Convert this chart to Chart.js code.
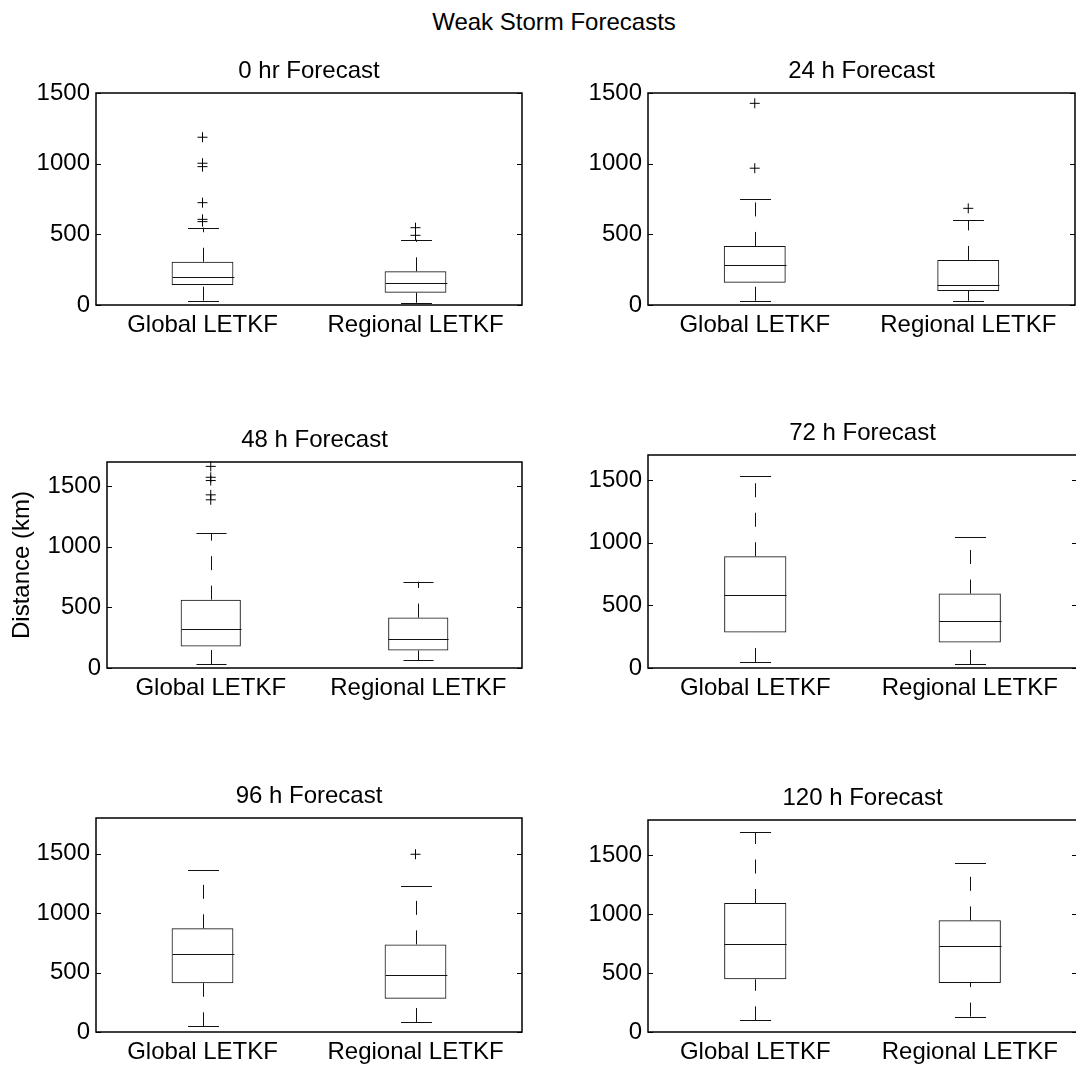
<!DOCTYPE html>
<html>
<head>
<meta charset="utf-8">
<title>Weak Storm Forecasts</title>
<script src="https://cdn.jsdelivr.net/npm/chart.js@4.4.1/dist/chart.umd.min.js"></script>
<style>
  html, body { margin: 0; padding: 0; background: #fff; overflow: hidden; }
  body { width: 1076px; height: 1070px; position: relative; }
  canvas { position: absolute; }
  #suptitle {
    position: absolute; left: 354px; width: 400px; top: 8px;
    line-height: 28px; text-align: center;
    font: 24px "Liberation Sans", Arial, sans-serif; color: #000;
  }
</style>
</head>
<body>
<div id="suptitle">Weak Storm Forecasts</div>

<script>
// --- Data (km) ---

const groups = ['Global LETKF', 'Regional LETKF'];
const panelTitles = ['0 hr Forecast', '24 h Forecast', '48 h Forecast',
                     '72 h Forecast', '96 h Forecast', '120 h Forecast'];
const yMax = [1500, 1500, 1700, 1700, 1800, 1800];
const yTicks = [0, 500, 1000, 1500];

// one [global, regional] pair per panel
const lowWhisker  = [[31, 16],   [30, 30],   [33, 66],    [48, 32],    [48, 84],    [99, 131]];
const q1          = [[141, 87],  [157, 99],  [178, 145],  [284, 204],  [411, 280],  [447, 416]];
const median      = [[198, 158], [280, 141], [323, 243],  [582, 375],  [657, 478],  [747, 733]];
const q3          = [[306, 238], [418, 319], [564, 416],  [892, 594],  [872, 737],  [1095, 948]];
const highWhisker = [[547, 462], [752, 599], [1114, 712], [1535, 1049], [1363, 1232], [1698, 1435]];

const globalOutliers   = [[1187, 1003, 979, 724, 606, 590], [1427, 968],
                          [1664, 1574, 1547, 1429, 1388], [], [], []];
const regionalOutliers = [[547, 493], [684], [], [], [1495], []];

// --- Layout: plot area of each panel in page pixels ---

const panelBoxes = [
    { left: 96,  top: 93,  right: 524,  bottom: 305 },
    { left: 648, top: 93,  right: 1077, bottom: 305 },
    { left: 107, top: 462, right: 524,  bottom: 668 },
    { left: 648, top: 455, right: 1077, bottom: 668 },
    { left: 96,  top: 818, right: 524,  bottom: 1032 },
    { left: 648, top: 820, right: 1077, bottom: 1032 }
];

const FONT = '"Liberation Sans", Arial, sans-serif';
const TOP_SPACE = 48;
const BOTTOM_SPACE = 44;
const RIGHT_PAD = 4;
const INK = '#111';

function crisp(v) {
    return Math.round(v) + 0.5;
}

function strokeLine(ctx, x1, y1, x2, y2) {
    ctx.beginPath();
    ctx.moveTo(x1, y1);
    ctx.lineTo(x2, y2);
    ctx.stroke();
}

// medians, dashed whiskers, caps, frame and inward ticks
function makeBoxPlugin(k) {
    return {
        id: 'boxWhiskers' + k,
        afterDatasetsDraw(chart) {
            const { ctx, chartArea, scales: { y } } = chart;
            const bars = chart.getDatasetMeta(0).data;
            ctx.save();
            ctx.strokeStyle = INK;
            ctx.lineWidth = 1;

            bars.forEach((bar, i) => {
                const cx = crisp(bar.x);
                const half = bar.width / 2;

                const ym = crisp(y.getPixelForValue(median[k][i]));
                strokeLine(ctx, cx - half, ym, cx + half, ym);

                // whiskers run upward from the lower value, dashed
                ctx.setLineDash([14, 15.5]);
                strokeLine(ctx, cx, y.getPixelForValue(q3[k][i]), cx, y.getPixelForValue(highWhisker[k][i]));
                strokeLine(ctx, cx, y.getPixelForValue(lowWhisker[k][i]), cx, y.getPixelForValue(q1[k][i]));
                ctx.setLineDash([]);

                const yHi = crisp(y.getPixelForValue(highWhisker[k][i]));
                const yLo = crisp(y.getPixelForValue(lowWhisker[k][i]));
                strokeLine(ctx, cx - half / 2, yHi, cx + half / 2, yHi);
                strokeLine(ctx, cx - half / 2, yLo, cx + half / 2, yLo);
            });

            // axes frame
            ctx.strokeStyle = '#000';
            ctx.lineWidth = 1.5;
            ctx.strokeRect(chartArea.left, chartArea.top, chartArea.width, chartArea.height);

            // inward y ticks on both sides
            ctx.lineWidth = 1;
            y.ticks.forEach(t => {
                const py = crisp(y.getPixelForValue(t.value));
                strokeLine(ctx, chartArea.left, py, chartArea.left + 5, py);
                strokeLine(ctx, chartArea.right - 5, py, chartArea.right, py);
            });
            ctx.restore();
        }
    };
}

function buildPanel(k) {
    const box = panelBoxes[k];
    const hasYTitle = (k === 2);
    const yWidth = hasYTitle ? box.left : 90;

    const canvas = document.createElement('canvas');
    canvas.width = yWidth + (box.right - box.left) + RIGHT_PAD;
    canvas.height = TOP_SPACE + (box.bottom - box.top) + BOTTOM_SPACE;
    canvas.style.left = (box.left - yWidth) + 'px';
    canvas.style.top = (box.top - TOP_SPACE) + 'px';
    document.body.appendChild(canvas);

    const outlierPoints = [
        ...globalOutliers[k].map(v => ({ x: groups[0], y: v })),
        ...regionalOutliers[k].map(v => ({ x: groups[1], y: v }))
    ];

    new Chart(canvas.getContext('2d'), {
        type: 'bar',
        data: {
            labels: groups,
            datasets: [{
                type: 'bar',
                data: groups.map((g, i) => [q1[k][i], q3[k][i]]),
                backgroundColor: 'rgba(0,0,0,0)',
                borderColor: INK,
                borderWidth: 1,
                borderSkipped: false,
                barPercentage: 0.29,
                categoryPercentage: 1
            }, {
                type: 'line',
                data: outlierPoints,
                showLine: false,
                pointStyle: 'cross',
                pointRadius: 5,
                pointBorderWidth: 1,
                pointBorderColor: '#000',
                pointBackgroundColor: '#000',
                clip: false
            }]
        },
        options: {
            responsive: false,
            animation: false,
            events: [],
            layout: { padding: { left: 0, right: RIGHT_PAD, top: 0, bottom: 0 } },
            plugins: {
                legend: { display: false },
                tooltip: { enabled: false },
                title: {
                    display: true,
                    text: panelTitles[k],
                    fullSize: false,
                    color: '#000',
                    font: { family: FONT, size: 24, weight: 'normal', lineHeight: 1.2 },
                    padding: { top: 11.6, bottom: 7.6 }
                }
            },
            scales: {
                x: {
                    type: 'category',
                    offset: true,
                    grid: { display: false, drawTicks: false },
                    border: { display: false },
                    ticks: {
                        color: '#000',
                        font: { family: FONT, size: 24 },
                        padding: 6,
                        maxRotation: 0,
                        autoSkip: false
                    },
                    afterFit: s => { s.height = BOTTOM_SPACE; }
                },
                y: {
                    min: 0,
                    max: yMax[k],
                    grid: { display: false, drawTicks: false },
                    border: { display: false },
                    afterBuildTicks: s => {
                        s.ticks = yTicks.filter(v => v <= yMax[k]).map(v => ({ value: v }));
                    },
                    ticks: {
                        color: '#000',
                        font: { family: FONT, size: 24 },
                        padding: 6,
                        callback: value => String(value)
                    },
                    title: {
                        display: hasYTitle,
                        text: 'Distance (km)',
                        color: '#000',
                        font: { family: FONT, size: 24 },
                        padding: { top: 8, bottom: 0 }
                    },
                    afterFit: s => { s.width = yWidth; }
                }
            }
        },
        plugins: [makeBoxPlugin(k)]
    });
}

panelTitles.forEach((t, k) => buildPanel(k));
</script>
</body>
</html>
